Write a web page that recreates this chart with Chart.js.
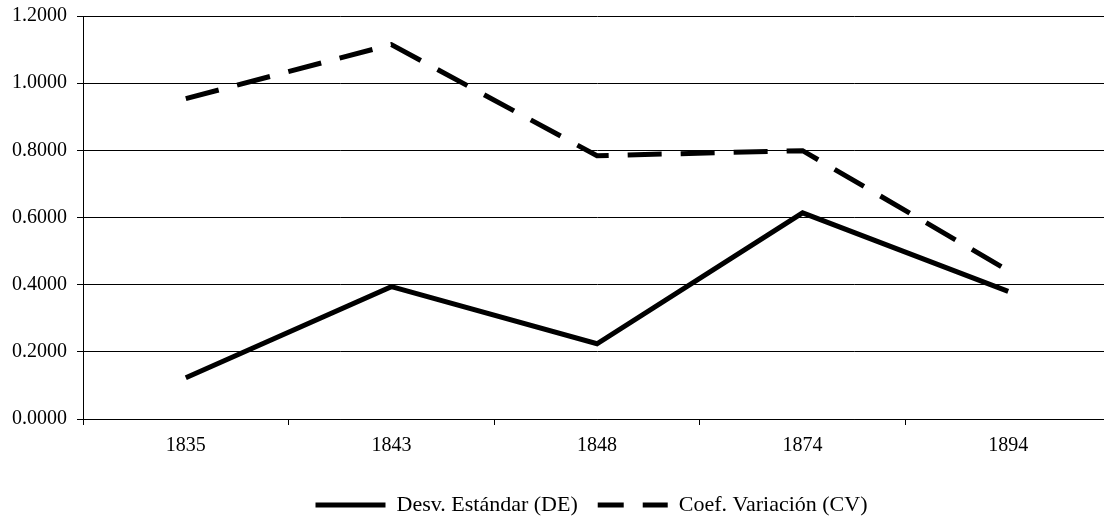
<!DOCTYPE html>
<html>
<head>
<meta charset="utf-8">
<script src="https://cdn.jsdelivr.net/npm/chart.js@4"></script>
<style>
  html, body { margin: 0; padding: 0; overflow: hidden; background: #fff; }
</style>
</head>
<body>
<canvas id="myChart" width="1111" height="519"></canvas>
<script>
const years = ['1835', '1843', '1848', '1874', '1894'];
const desvEstandar = [0.123, 0.394, 0.224, 0.614, 0.380];
const coefVariacion = [0.954, 1.115, 0.784, 0.799, 0.442];

// nudge the legend to where the original sits (a bit right, lower)
const legendShift = {
  id: 'legendShift',
  beforeDraw(chart) {
    chart.legend.left = 72;
    chart.legend.right = 1111;
    chart.legend.top = 474;
  },
};

const main = () => {
  const ctx = document.getElementById('myChart').getContext('2d');
  const serif = 'Liberation Serif';

  const config = {
    type: 'line',
    data: {
      labels: years,
      datasets: [
        {
          label: 'Desv. Estándar (DE)',
          data: desvEstandar,
          borderColor: '#000',
          backgroundColor: '#000',
          borderWidth: 5,
          pointRadius: 0,
          pointStyle: 'line',
          tension: 0,
        },
        {
          label: 'Coef. Variación (CV)',
          data: coefVariacion,
          borderColor: '#000',
          backgroundColor: '#000',
          borderWidth: 5,
          borderDash: [34, 19],
          pointRadius: 0,
          pointStyle: 'line',
          tension: 0,
        },
      ],
    },
    options: {
      responsive: false,
      animation: false,
      layout: { padding: { left: 0, right: 0, top: 16, bottom: 0 } },
      scales: {
        x: {
          offset: true,
          grid: { offset: true, drawOnChartArea: false, drawTicks: true, tickLength: 6, color: '#000' },
          border: { color: '#000', width: 1 },
          ticks: { color: '#000', font: { family: serif, size: 20 }, padding: 9, maxRotation: 0 },
        },
        y: {
          min: 0,
          max: 1.2,
          afterFit: (scale) => { scale.width = 83; },
          grid: { color: '#000', tickLength: 6 },
          border: { color: '#000', width: 1 },
          ticks: {
            stepSize: 0.2,
            color: '#000',
            font: { family: serif, size: 20, lineHeight: 0.5 },
            padding: 10,
            callback: (v) => Number(v).toFixed(4),
          },
        },
      },
      plugins: {
        tooltip: { enabled: false },
        legend: {
          position: 'bottom',
          labels: {
            color: '#000',
            font: { family: serif, size: 22 },
            usePointStyle: true,
            pointStyleWidth: 70,
            padding: 20,
            generateLabels: (chart) => {
              const items = Chart.defaults.plugins.legend.labels.generateLabels(chart);
              items[0].lineDash = [];
              items[1].lineDash = [26, 19];
              items.forEach((it) => { it.lineWidth = 5; it.strokeStyle = '#000'; });
              return items;
            },
          },
        },
      },
    },
    plugins: [legendShift],
  };

  new Chart(ctx, config);
};

main();
</script>
</body>
</html>
